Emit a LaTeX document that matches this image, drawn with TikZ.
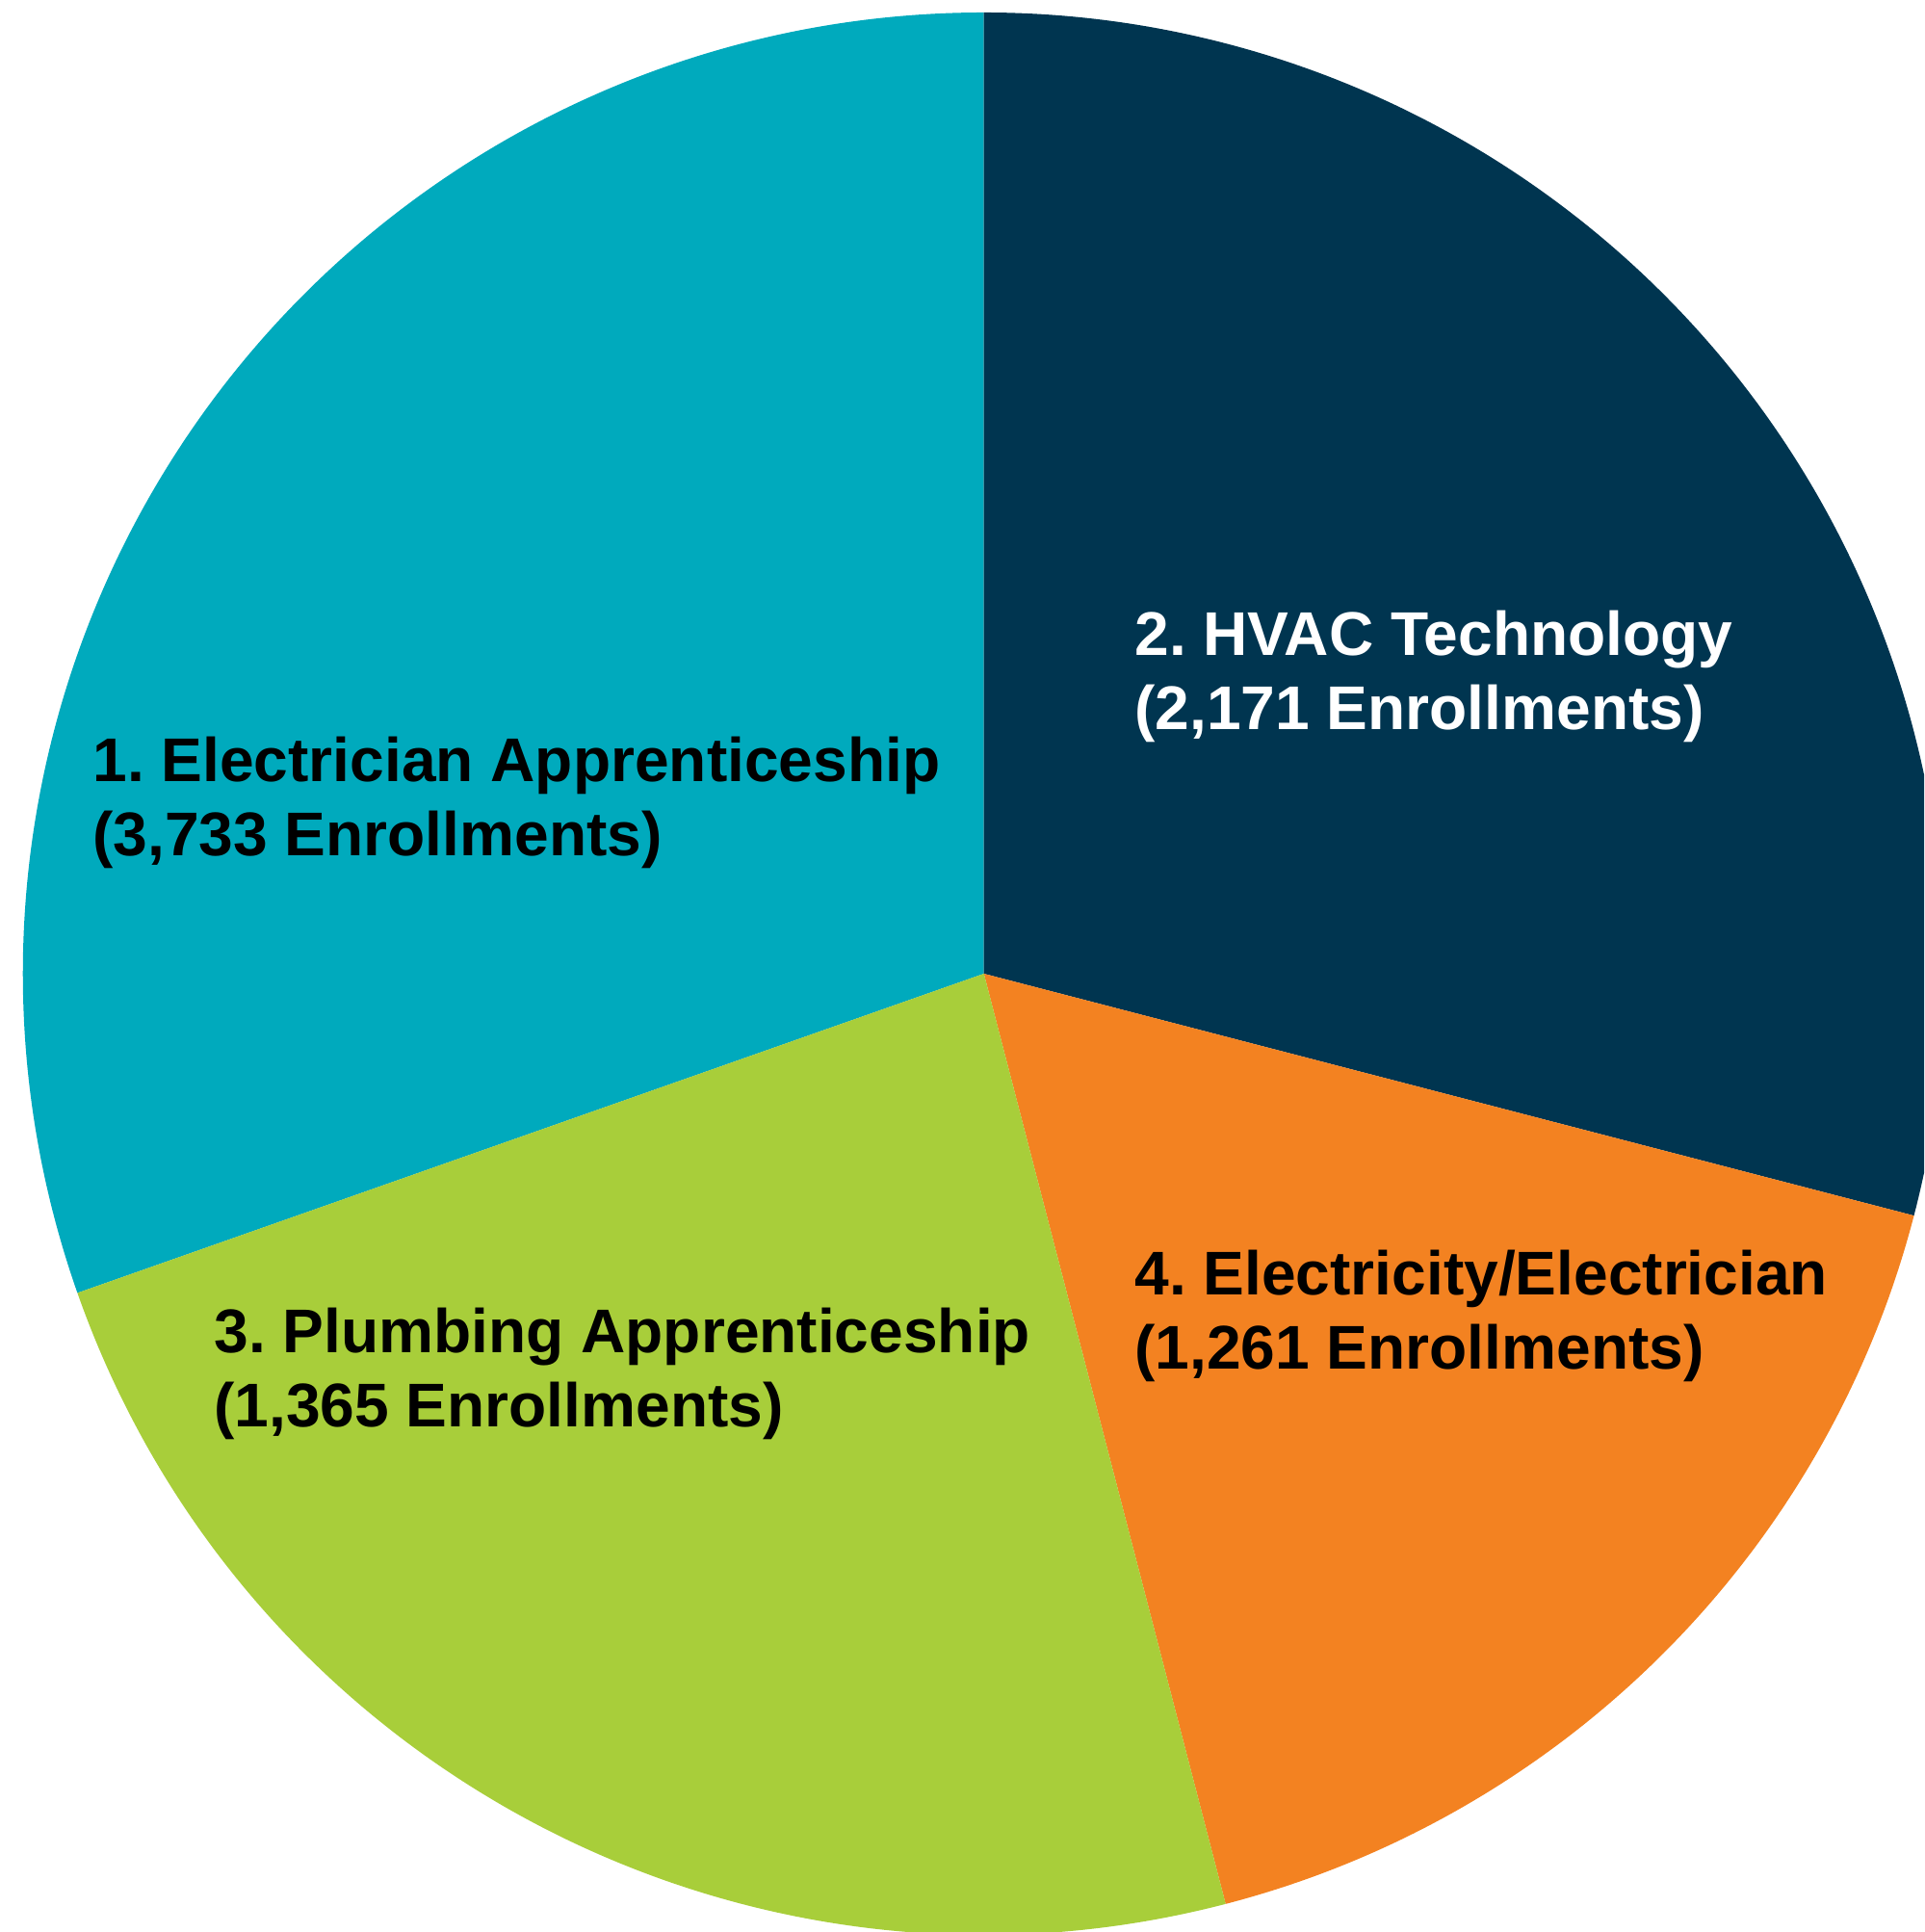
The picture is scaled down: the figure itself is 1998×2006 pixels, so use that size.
\documentclass[tikz,border=0pt]{standalone}
\usepackage{fontspec}
\setmainfont{Liberation Sans}
\usepackage{tikz}
\frenchspacing

\definecolor{slteal}{RGB}{0,170,189}
\definecolor{slnavy}{RGB}{0,53,80}
\definecolor{slorange}{RGB}{243,130,33}
\definecolor{slgreen}{RGB}{168,206,58}

\tikzset{
  pielabel/.style = {anchor = base west, align = left, inner sep = 0pt,
    font = \bfseries\fontsize{32.05}{38.25}\selectfont}
}

\begin{document}
\begin{tikzpicture}[x = 0.5pt, y = 0.5pt]

\clip (0,0) rectangle (1998,2006);
\coordinate (C) at (1021.7,995);

\foreach \a/\b/\c in {90/199.4/slteal, -14.58/90/slnavy, -75.43/-14.58/slorange, 199.4/284.57/slgreen}
	\fill[\c] (C) -- +(\a:998) arc[start angle = \a, end angle = \b, radius = 998] -- cycle;

\node[pielabel] (elec) at (96,1117.5) {1. Electrician Apprenticeship\\(3,733 Enrollments)};
\node[pielabel, white] (hvac) at (1178,1248.5) {2. HVAC Technology\\(2,171 Enrollments)};
\node[pielabel] (plumb) at (222,524.5) {3. Plumbing Apprenticeship\\(1,365 Enrollments)};
\node[pielabel] (elecy) at (1178,584.5) {4. Electricity/Electrician\\(1,261 Enrollments)};
\end{tikzpicture}
\end{document}
